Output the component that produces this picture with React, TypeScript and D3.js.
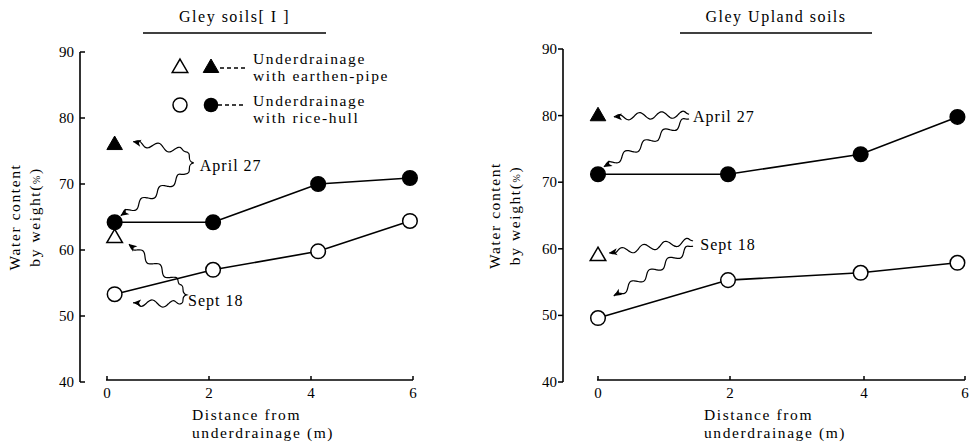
import React from "react";
import * as d3 from "d3";

// ---------- data ----------
const xTicks = [0, 2, 4, 6];
const yTicks = [40, 50, 60, 70, 80, 90];

const leftTitle = "Gley soils[ I ]";
const rightTitle = "Gley Upland soils";

const leftDist = [0.15, 2.08, 4.14, 5.94];
const leftRiceApril = [64.2, 64.2, 70.0, 70.9];
const leftRiceSept = [53.3, 57.0, 59.8, 64.4];
const leftPipeDist = 0.15;
const leftPipeApril = 75.9;
const leftPipeSept = 61.8;

const rightDist = [0, 1.97, 3.95, 5.85];
const rightRiceApril = [71.2, 71.2, 74.2, 79.8];
const rightRiceSept = [49.6, 55.3, 56.4, 57.9];
const rightPipeDist = 0;
const rightPipeApril = 79.9;
const rightPipeSept = 58.9;

const legendLabels = [
  ["Underdrainage", "with earthen-pipe"],
  ["Underdrainage", "with rice-hull"],
];

// annotation anchors in data units: [distance, value]
type P = [number, number];
const leftAnn = {
  april: { text: [1.82, 72.0] as P, braceTop: [1.53, 74.9] as P, braceMid: [1.70, 73.2] as P, braceBot: [1.53, 71.5] as P, tips: [[0.51, 76.4], [0.27, 65.2]] as P[] },
  sept: { text: [1.59, 51.5] as P, braceTop: [1.42, 54.8] as P, braceMid: [1.56, 53.2] as P, braceBot: [1.42, 51.8] as P, tips: [[0.43, 60.9], [0.51, 52.0]] as P[] },
};
const rightAnn = {
  april: { text: [1.44, 79.0] as P, starts: [[1.38, 80.2], [1.38, 79.5]] as P[], tips: [[0.24, 79.8], [0.09, 72.3]] as P[] },
  sept: { text: [1.55, 59.8] as P, starts: [[1.44, 61.2], [1.44, 60.4]] as P[], tips: [[0.17, 59.4], [0.24, 52.9]] as P[] },
};

const FONT = "'Liberation Serif', 'DejaVu Serif', serif";

function wavePath(p0: P, p1: P, amp = 3.5, wl = 22) {
  const dx = p1[0] - p0[0], dy = p1[1] - p0[1];
  const L = Math.hypot(dx, dy);
  const ux = dx / L, uy = dy / L, nx = -uy, ny = ux;
  const pts: P[] = [];
  const n = Math.ceil(L / 1.5);
  for (let i = 0; i <= n; i++) {
    const s = (i / n) * L;
    const taper = Math.min(1, s / 5, (L - s) / 8);
    const off = amp * Math.sin((2 * Math.PI * s) / wl) * Math.max(0, taper);
    pts.push([p0[0] + ux * s + nx * off, p0[1] + uy * s + ny * off]);
  }
  return d3.line().curve(d3.curveBasis)(pts) || "";
}

function arrowHead(p0: P, p1: P) {
  const dx = p1[0] - p0[0], dy = p1[1] - p0[1];
  const L = Math.hypot(dx, dy);
  const ux = dx / L, uy = dy / L, nx = -uy, ny = ux;
  const b: P = [p1[0] - ux * 8, p1[1] - uy * 8];
  return `M${p1[0]},${p1[1]}L${b[0] + nx * 3.5},${b[1] + ny * 3.5}L${b[0] + ux * 2},${b[1] + uy * 2}L${b[0] - nx * 3.5},${b[1] - ny * 3.5}Z`;
}

function Arrow({ from, to }: { from: P; to: P }) {
  return (
    <g>
      <path d={wavePath(from, to)} fill="none" stroke="#000" strokeWidth={1.2} />
      <path d={arrowHead(from, to)} fill="#000" />
    </g>
  );
}

function Brace({ top, mid, bot }: { top: P; mid: P; bot: P }) {
  const d = `M${top[0]},${top[1]} C${mid[0]},${top[1] + 1} ${top[0]},${mid[1] - 2} ${mid[0]},${mid[1]} C${top[0]},${mid[1] + 2} ${mid[0]},${bot[1] - 1} ${bot[0]},${bot[1]}`;
  return <path d={d} fill="none" stroke="#000" strokeWidth={1.2} />;
}

const triangle = d3.symbol().type(d3.symbolTriangle).size(105);

function Panel(props: {
  x: d3.ScaleLinear<number, number>;
  y: d3.ScaleLinear<number, number>;
  axisX: number;
  axisY: number;
  title: string;
  titleLine: [number, number];
  yTitleX: number;
  xTitleX: number;
  tickDir: number;
  dist: number[];
  april: number[];
  sept: number[];
  pipeDist: number;
  pipeApril: number;
  pipeSept: number;
}) {
  const { x, y, axisX, axisY, tickDir } = props;
  const line = d3.line<number>().x((_, i) => x(props.dist[i])).y((d) => y(d));
  const titleCx = (props.titleLine[0] + props.titleLine[1]) / 2;
  const yMid = (y(40) + y(90)) / 2;
  return (
    <g style={{ fontFamily: FONT }} fill="#000">
      <text x={titleCx} y={22} fontSize={16} letterSpacing={1.5} textAnchor="middle">{props.title}</text>
      <line x1={props.titleLine[0]} x2={props.titleLine[1]} y1={33} y2={33} stroke="#000" strokeWidth={1.3} />
      {/* y axis */}
      <line x1={axisX} x2={axisX} y1={y(90)} y2={y(40)} stroke="#000" strokeWidth={1.6} />
      {yTicks.map((t) => (
        <g key={t}>
          <line x1={axisX} x2={axisX + tickDir * 5} y1={y(t)} y2={y(t)} stroke="#000" strokeWidth={1.5} />
          <text x={axisX - 6} y={y(t) + 5} fontSize={15} textAnchor="end">{t}</text>
        </g>
      ))}
      <text transform={`translate(${props.yTitleX},${yMid}) rotate(-90)`} fontSize={15.5} letterSpacing={1.6} textAnchor="middle">Water content</text>
      <text transform={`translate(${props.yTitleX + 20},${yMid}) rotate(-90)`} fontSize={15.5} letterSpacing={1.6} textAnchor="middle">by weight(<tspan fontSize={10}>%</tspan>)</text>
      {/* x axis */}
      <line x1={x(0) - 1} x2={x(6)} y1={axisY} y2={axisY} stroke="#000" strokeWidth={1.6} />
      {xTicks.map((t) => (
        <g key={t}>
          <line x1={x(t)} x2={x(t)} y1={axisY} y2={axisY - 4} stroke="#000" strokeWidth={1.5} />
          <text x={x(t)} y={axisY + 18} fontSize={15} textAnchor="middle">{t}</text>
        </g>
      ))}
      <text x={props.xTitleX} y={420} fontSize={15.5} letterSpacing={1.6}>Distance from</text>
      <text x={props.xTitleX} y={438} fontSize={15.5} letterSpacing={1.6}>underdrainage (m)</text>
      {/* lines */}
      <path d={line(props.april) || ""} fill="none" stroke="#000" strokeWidth={1.6} />
      <path d={line(props.sept) || ""} fill="none" stroke="#000" strokeWidth={1.6} />
      {props.april.map((v, i) => (
        <circle key={"a" + i} cx={x(props.dist[i])} cy={y(v)} r={7.3} fill="#000" stroke="#000" strokeWidth={1.5} />
      ))}
      {props.sept.map((v, i) => (
        <circle key={"s" + i} cx={x(props.dist[i])} cy={y(v)} r={7.3} fill="#fff" stroke="#000" strokeWidth={1.5} />
      ))}
      <path d={triangle() || ""} transform={`translate(${x(props.pipeDist)},${y(props.pipeApril)})`} fill="#000" stroke="#000" strokeWidth={1} />
      <path d={triangle() || ""} transform={`translate(${x(props.pipeDist)},${y(props.pipeSept)})`} fill="#fff" stroke="#000" strokeWidth={1.5} />
    </g>
  );
}

export default function App() {
  const xL = d3.scaleLinear().domain([0, 6]).range([107, 413]);
  const yL = d3.scaleLinear().domain([40, 90]).range([382, 52]);
  const xR = d3.scaleLinear().domain([0, 2, 4, 6]).range([598, 730, 864, 965]);
  const yR = d3.scaleLinear().domain([40, 90]).range([382, 49]);

  const pL = (p: P): P => [xL(p[0]), yL(p[1])];
  const pR = (p: P): P => [xR(p[0]), yR(p[1])];

  return (
    <svg width={970} height={444} style={{ position: "absolute", left: 0, top: 0, background: "#fff" }}>
      <rect width={970} height={444} fill="#fff" />
      <Panel x={xL} y={yL} axisX={80} axisY={380} title={leftTitle} titleLine={[143, 326]} yTitleX={20} xTitleX={192} tickDir={1}
        dist={leftDist} april={leftRiceApril} sept={leftRiceSept} pipeDist={leftPipeDist} pipeApril={leftPipeApril} pipeSept={leftPipeSept} />
      <Panel x={xR} y={yR} axisX={563} axisY={380} title={rightTitle} titleLine={[680, 872]} yTitleX={500} xTitleX={704} tickDir={-1}
        dist={rightDist} april={rightRiceApril} sept={rightRiceSept} pipeDist={rightPipeDist} pipeApril={rightPipeApril} pipeSept={rightPipeSept} />

      {/* legend */}
      <g style={{ fontFamily: FONT }} fontSize={15.5} letterSpacing={1.6}>
        <path d={triangle() || ""} transform="translate(180,68)" fill="#fff" stroke="#000" strokeWidth={1.5} />
        <path d={triangle() || ""} transform="translate(211,68)" fill="#000" stroke="#000" strokeWidth={1} />
        <line x1={220} x2={246} y1={68} y2={68} stroke="#000" strokeWidth={1.4} strokeDasharray="4,3" />
        <text x={253} y={64}>{legendLabels[0][0]}</text>
        <text x={253} y={81}>{legendLabels[0][1]}</text>
        <circle cx={180} cy={105} r={7} fill="#fff" stroke="#000" strokeWidth={1.5} />
        <circle cx={211} cy={105} r={7.3} fill="#000" />
        <line x1={218} x2={246} y1={105} y2={105} stroke="#000" strokeWidth={1.4} strokeDasharray="4,3" />
        <text x={253} y={106}>{legendLabels[1][0]}</text>
        <text x={253} y={123}>{legendLabels[1][1]}</text>
      </g>

      {/* left annotations */}
      <g style={{ fontFamily: FONT }} fontSize={16} letterSpacing={1}>
        <text x={pL(leftAnn.april.text)[0]} y={pL(leftAnn.april.text)[1]}>April 27</text>
        <Brace top={pL(leftAnn.april.braceTop)} mid={pL(leftAnn.april.braceMid)} bot={pL(leftAnn.april.braceBot)} />
        <Arrow from={pL(leftAnn.april.braceTop)} to={pL(leftAnn.april.tips[0])} />
        <Arrow from={pL(leftAnn.april.braceBot)} to={pL(leftAnn.april.tips[1])} />
        <text x={pL(leftAnn.sept.text)[0]} y={pL(leftAnn.sept.text)[1]}>Sept  18</text>
        <Brace top={pL(leftAnn.sept.braceTop)} mid={pL(leftAnn.sept.braceMid)} bot={pL(leftAnn.sept.braceBot)} />
        <Arrow from={pL(leftAnn.sept.braceTop)} to={pL(leftAnn.sept.tips[0])} />
        <Arrow from={pL(leftAnn.sept.braceBot)} to={pL(leftAnn.sept.tips[1])} />
      </g>
      {/* right annotations */}
      <g style={{ fontFamily: FONT }} fontSize={16} letterSpacing={1}>
        <text x={pR(rightAnn.april.text)[0]} y={pR(rightAnn.april.text)[1]}>April  27</text>
        {rightAnn.april.starts.map((s, i) => <Arrow key={"ra" + i} from={pR(s)} to={pR(rightAnn.april.tips[i])} />)}
        <text x={pR(rightAnn.sept.text)[0]} y={pR(rightAnn.sept.text)[1]}>Sept  18</text>
        {rightAnn.sept.starts.map((s, i) => <Arrow key={"rs" + i} from={pR(s)} to={pR(rightAnn.sept.tips[i])} />)}
      </g>
    </svg>
  );
}
